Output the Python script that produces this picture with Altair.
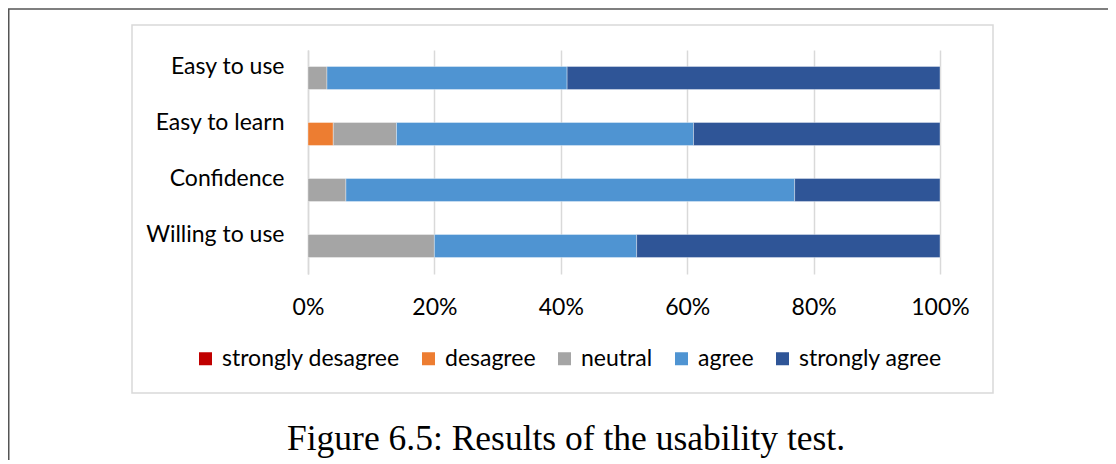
import altair as alt
import pandas as pd

# ---- data ----
categories = ["Easy to use", "Easy to learn", "Confidence", "Willing to use"]
responses = ["strongly desagree", "desagree", "neutral", "agree", "strongly agree"]
colors = ["#C00000", "#ED7D31", "#A5A5A5", "#4F94D2", "#2F5597"]
strongly_desagree = [0, 0, 0, 0]
desagree = [0, 4, 0, 0]
neutral = [3, 10, 6, 20]
agree = [38, 47, 71, 32]
strongly_agree = [59, 39, 23, 48]
x_ticks = [0, 0.2, 0.4, 0.6, 0.8, 1.0]
caption = "Figure 6.5: Results of the usability test."

series = [strongly_desagree, desagree, neutral, agree, strongly_agree]
rows = []
for k, (resp, vals) in enumerate(zip(responses, series)):
    for cat, v in zip(categories, vals):
        rows.append({"question": cat, "response": resp, "value": v, "order": k})
df = pd.DataFrame(rows)

one = pd.DataFrame({"a": [0]})
LABEL_FONT = "Lato"
LABEL_SIZE = 23

bars = alt.Chart(df).transform_filter("datum.value > 0").mark_bar(
    stroke="white", strokeWidth=0.8, strokeOpacity=0.45
).encode(
    x=alt.X(
        "value:Q",
        stack="normalize",
        scale=alt.Scale(domain=[0, 1], nice=False),
        axis=alt.Axis(
            values=x_ticks, format=".0%", title=None, domain=False,
            ticks=False, tickSize=0, grid=True, gridColor="#d9d9d9", gridWidth=1.5,
            labelFont=LABEL_FONT, labelFontSize=LABEL_SIZE, labelColor="#000",
            labelPadding=40, labelBaseline="alphabetic", labelFlush=False,
            labelAlign="center",
        ),
    ),
    y=alt.Y(
        "question:N",
        sort=categories,
        scale=alt.Scale(paddingInner=0.59, paddingOuter=0.295),
        axis=alt.Axis(
            title=None, domain=True, domainColor="#d9d9d9", domainWidth=1.5,
            ticks=False, tickSize=0, labelFont=LABEL_FONT, labelFontSize=LABEL_SIZE,
            labelColor="#000", labelPadding=24, labelBaseline="alphabetic",
            labelOffset=-4, labelLimit=300,
        ),
    ),
    color=alt.Color(
        "response:N",
        sort=responses,
        scale=alt.Scale(domain=responses, range=colors),
        legend=alt.Legend(
            title=None, orient="none", direction="horizontal",
            legendX=-114, legendY=297, symbolType="square", symbolSize=169,
            symbolStrokeWidth=0, labelFont=LABEL_FONT, labelFontSize=LABEL_SIZE,
            labelColor="#000", labelLimit=300, labelOffset=5, columnPadding=17,
            padding=0,
            labelExpr="datum.label == 'agree' ? '\u00a0agree' : datum.label",
        ),
    ),
    order=alt.Order("order:Q", sort="ascending"),
)

# chart box (light grey frame)
box = alt.Chart(one).mark_rect(fillOpacity=0, stroke="#d9d9d9", strokeWidth=1.5).encode(
    x=alt.value(-176), x2=alt.value(685), y=alt.value(-25), y2=alt.value(343)
)

# page frame lines
top_line = alt.Chart(one).mark_rule(color="#555555", strokeWidth=1.5).encode(
    x=alt.value(-300), x2=alt.value(820), y=alt.value(-41)
)
left_line = alt.Chart(one).mark_rule(color="#555555", strokeWidth=1.5).encode(
    x=alt.value(-299.25), y=alt.value(-41), y2=alt.value(420)
)

cap = alt.Chart(one).mark_text(
    text=caption, font="Liberation Serif", fontSize=35.5, align="center",
    baseline="alphabetic", color="#000"
).encode(x=alt.value(258), y=alt.value(400))

chart = alt.layer(box, top_line, left_line, bars, cap).properties(
    width=632,
    height=224,
    autosize=alt.AutoSizeParams(type="none"),
    padding={"left": 300, "top": 42, "right": 168, "bottom": 186},
).configure_view(stroke=None)

chart.save("out.html", embed_options={"renderer": "svg", "actions": False})
